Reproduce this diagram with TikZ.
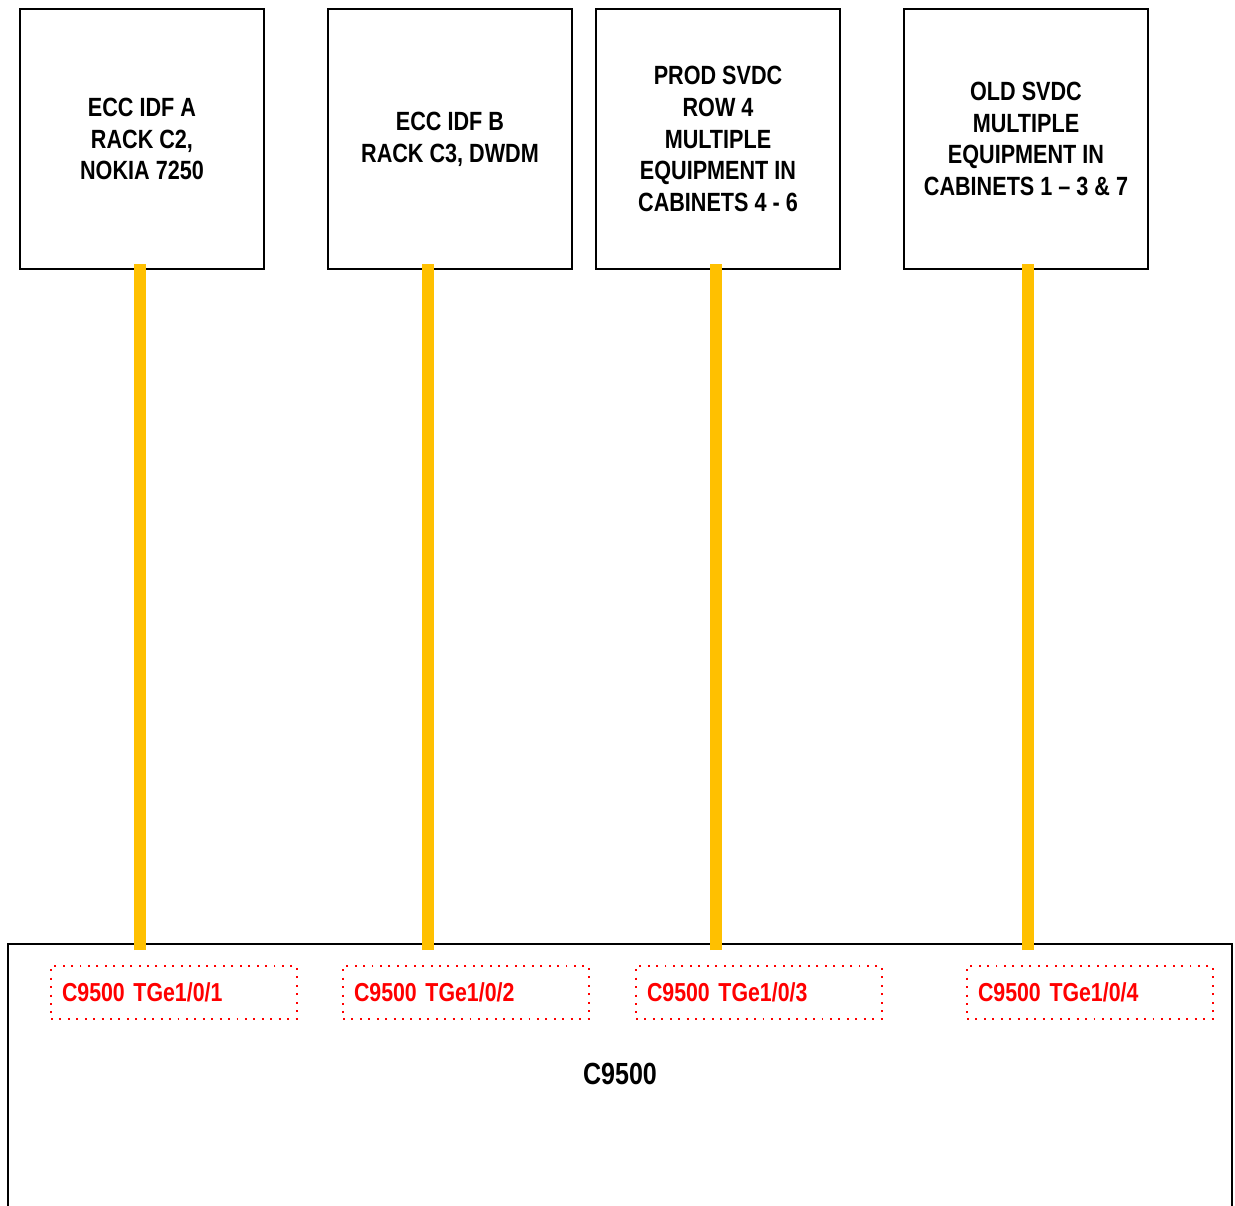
\documentclass[tikz,border=0pt]{standalone}
\usepackage{fontspec}
\setmainfont{Liberation Sans}[FakeStretch=0.82]
\definecolor{cableyellow}{HTML}{FFC000}

\begin{document}
\begin{tikzpicture}[x=0.02cm, y=-0.02cm,
    site/.style = {rectangle, draw, line width=1.1pt, minimum width=4.88cm, minimum height=5.2cm,
                   align=center, font=\fontsize{15}{18.1}\selectfont\bfseries},
    port/.style = {rectangle, draw=red, line width=1.1pt, dash pattern=on 1.1pt off 3.7pt,
                   minimum width=4.92cm, minimum height=1.06cm, inner xsep=0.22cm,
                   text width=4.48cm, align=left, text=red, font=\fontsize{14.8}{18}\selectfont\bfseries},
    cable/.style = {draw=cableyellow, line width=6.8pt}]
  \useasboundingbox (0, 0) rectangle (1235, 1205);

  % Sites.
  \node at (142, 139) [site, name=IdfA] {ECC IDF A\\RACK C2,\\NOKIA 7250};
  \node at (450, 139) [site, name=IdfB] {ECC IDF B\\RACK C3, DWDM};
  \node at (718, 139) [site, name=ProdSvdc] {PROD SVDC\\ROW 4\\MULTIPLE\\EQUIPMENT IN\\CABINETS 4 - 6};
  \node at (1026, 139) [site, name=OldSvdc] {OLD SVDC\\MULTIPLE\\EQUIPMENT IN\\CABINETS 1 -- 3 \& 7};

  % Switch.
  \node at (620, 1097) [rectangle, draw, line width=1.1pt, minimum width=24.48cm, minimum height=6.12cm, name=Switch] {};
  \node at (620, 1074) [font=\fontsize{17.4}{20}\selectfont\bfseries, name=SwitchLabel] {C9500};

  % Ports.
  \node at (174, 992.5) [port, name=PortA] {C9500 TGe1/0/1};
  \node at (466, 992.5) [port, name=PortB] {C9500 TGe1/0/2};
  \node at (759, 992.5) [port, name=PortC] {C9500 TGe1/0/3};
  \node at (1090, 992.5) [port, name=PortD] {C9500 TGe1/0/4};

  % Locations where the cables land on the switch.
  \coordinate (TapA) at (140, 950);
  \coordinate (TapB) at (428, 950);
  \coordinate (TapC) at (716, 950);
  \coordinate (TapD) at (1028, 950);

  % Cables.
  \draw [cable] (TapA) -- (IdfA.south -| TapA) -- ++(0, -6);
  \draw [cable] (TapB) -- (IdfB.south -| TapB) -- ++(0, -6);
  \draw [cable] (TapC) -- (ProdSvdc.south -| TapC) -- ++(0, -6);
  \draw [cable] (TapD) -- (OldSvdc.south -| TapD) -- ++(0, -6);
\end{tikzpicture}
\end{document}
